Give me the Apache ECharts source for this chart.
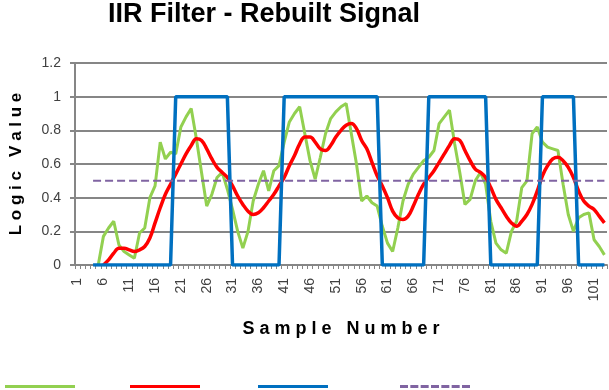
<!DOCTYPE html>
<html>
<head>
<meta charset="utf-8">
<script src="https://cdn.jsdelivr.net/npm/echarts@6/dist/echarts.min.js"></script>
<style>html,body{margin:0;padding:0;background:#fff}#c{width:609px;height:390px}</style>
</head>
<body>
<div id="c"></div>
<script>
// Sample numbers 1..103 (category axis)
const categories = Array.from({length: 103}, (_, i) => String(i + 1));
const yTicks = [0, 0.2, 0.4, 0.6, 0.8, 1, 1.2];

const rawSignal = [
  null,null,null,null,0,0.17,0.22,0.26,0.12,0.08,
  0.06,0.04,0.19,0.22,0.40,0.47,0.73,0.63,0.67,0.66,
  0.82,0.88,0.93,0.75,0.55,0.35,0.42,0.52,0.55,0.45,
  0.33,0.20,0.10,0.20,0.38,0.48,0.56,0.44,0.56,0.59,
  0.73,0.85,0.90,0.94,0.78,0.62,0.51,0.64,0.78,0.87,
  0.91,0.94,0.96,0.78,0.60,0.38,0.41,0.37,0.35,0.23,
  0.13,0.08,0.22,0.38,0.48,0.54,0.58,0.62,0.64,0.68,
  0.84,0.88,0.92,0.72,0.55,0.36,0.39,0.50,0.55,0.48,
  0.26,0.13,0.09,0.07,0.20,0.26,0.46,0.50,0.78,0.82,
  0.73,0.70,0.69,0.68,0.48,0.30,0.20,0.28,0.30,0.31,
  0.15,0.11,0.06
];

const filtered = [
  null,null,null,null,null,0,0.03,0.07,0.10,0.10,
  0.09,0.08,0.09,0.11,0.16,0.25,0.34,0.42,0.48,0.54,
  0.60,0.66,0.71,0.75,0.74,0.69,0.63,0.58,0.55,0.52,
  0.47,0.41,0.36,0.32,0.30,0.31,0.34,0.38,0.42,0.47,
  0.52,0.59,0.65,0.72,0.76,0.76,0.73,0.69,0.68,0.71,
  0.76,0.80,0.83,0.84,0.81,0.74,0.69,0.61,0.53,0.47,
  0.40,0.32,0.28,0.27,0.29,0.35,0.42,0.48,0.52,0.56,
  0.61,0.66,0.71,0.75,0.74,0.68,0.62,0.57,0.55,0.52,
  0.46,0.39,0.34,0.29,0.25,0.23,0.26,0.30,0.36,0.44,
  0.53,0.59,0.63,0.64,0.62,0.58,0.52,0.44,0.38,0.35,
  0.33,0.29,0.25
];

const rebuilt = [
  null,null,null,0,0,0,0,0,0,0,
  0,0,0,0,0,0,0,0,0,1,
  1,1,1,1,1,1,1,1,1,1,
  0,0,0,0,0,0,0,0,0,0,
  1,1,1,1,1,1,1,1,1,1,
  1,1,1,1,1,1,1,1,1,0,
  0,0,0,0,0,0,0,0,1,1,
  1,1,1,1,1,1,1,1,1,1,
  0,0,0,0,0,0,0,0,0,0,
  1,1,1,1,1,1,1,0,0,0,
  0,0,0
];

const threshold = [
  null,null,null,0.5,0.5,0.5,0.5,0.5,0.5,0.5,
  0.5,0.5,0.5,0.5,0.5,0.5,0.5,0.5,0.5,0.5,
  0.5,0.5,0.5,0.5,0.5,0.5,0.5,0.5,0.5,0.5,
  0.5,0.5,0.5,0.5,0.5,0.5,0.5,0.5,0.5,0.5,
  0.5,0.5,0.5,0.5,0.5,0.5,0.5,0.5,0.5,0.5,
  0.5,0.5,0.5,0.5,0.5,0.5,0.5,0.5,0.5,0.5,
  0.5,0.5,0.5,0.5,0.5,0.5,0.5,0.5,0.5,0.5,
  0.5,0.5,0.5,0.5,0.5,0.5,0.5,0.5,0.5,0.5,
  0.5,0.5,0.5,0.5,0.5,0.5,0.5,0.5,0.5,0.5,
  0.5,0.5,0.5,0.5,0.5,0.5,0.5,0.5,0.5,0.5,
  0.5,0.5,0.5
];

const seriesNames = ['Signal', 'Filtered', 'Rebuilt', 'Threshold'];
const colors = ['#92D050', '#FF0000', '#0070C0', '#8064A2'];

const chart = echarts.init(document.getElementById('c'), null, {renderer: 'canvas'});
const gray = '#868686';
const legendLeft = [5, 130, 258, 400];
const dashIcon = 'path://M0,0h24v3h-24z M31,0h24v3h-24z M62,0h24v3h-24z M93,0h24v3h-24z M124,0h24v3h-24z M155,0h24v3h-24z M186,0h24v3h-24z';
const legendIcons = ['rect', 'rect', 'rect', dashIcon];

chart.setOption({
  animation: false,
  title: {
    text: 'IIR Filter - Rebuilt Signal',
    left: 259, top: -4, textAlign: 'center',
    textStyle: {fontFamily: 'Liberation Sans', fontWeight: 'bold', fontSize: 27, color: '#000'}
  },
  legend: seriesNames.map((n, i) => ({
    data: [n], left: legendLeft[i], top: 385, padding: 0,
    icon: legendIcons[i], symbolKeepAspect: false,
    itemWidth: 70, itemHeight: 3, formatter: () => '',
    selectedMode: false, textStyle: {fontSize: 1}
  })),
  grid: {left: 70, right: 2, top: 63, bottom: 125, containLabel: false},
  xAxis: {
    type: 'category', data: categories, boundaryGap: true,
    name: 'S a m p l e   N u m b e r', nameLocation: 'middle', nameGap: 55,
    nameTextStyle: {fontFamily: 'Liberation Sans', fontWeight: 'bold', fontSize: 18, color: '#000'},
    axisLine: {lineStyle: {color: gray, width: 2}},
    axisTick: {show: true, interval: 0, length: 4, lineStyle: {color: gray, width: 1}},
    axisLabel: {interval: 4, rotate: 90, margin: 13, fontFamily: 'Liberation Sans', fontSize: 14, color: '#404040'},
    splitLine: {show: false}
  },
  yAxis: {
    type: 'value', min: 0, max: 1.2, interval: 0.2,
    name: 'L o g i c   V a l u e', nameLocation: 'middle', nameGap: 50,
    nameTextStyle: {fontFamily: 'Liberation Sans', fontWeight: 'bold', fontSize: 17, color: '#000'},
    axisLine: {show: true, lineStyle: {color: gray, width: 2}},
    axisTick: {show: true, length: 5, lineStyle: {color: gray, width: 2}},
    axisLabel: {margin: 14, fontFamily: 'Liberation Sans', fontSize: 14, color: '#404040',
      formatter: v => { const t = yTicks.find(x => Math.abs(x - v) < 1e-9); return String(t !== undefined ? t : v); }},
    splitLine: {show: true, lineStyle: {color: gray, width: 2}}
  },
  series: [
    {name: seriesNames[0], type: 'line', data: rawSignal, symbol: 'none', smooth: false,
      lineStyle: {color: colors[0], width: 3}, itemStyle: {color: colors[0]}},
    {name: seriesNames[1], type: 'line', data: filtered, symbol: 'none', smooth: 0.4,
      lineStyle: {color: colors[1], width: 3.5}, itemStyle: {color: colors[1]}},
    {name: seriesNames[2], type: 'line', data: rebuilt, symbol: 'none', smooth: false,
      lineStyle: {color: colors[2], width: 3.5}, itemStyle: {color: colors[2]}},
    {name: seriesNames[3], type: 'line', data: threshold, symbol: 'none', smooth: false,
      lineStyle: {color: colors[3], width: 2, type: [8, 4]}, itemStyle: {color: colors[3]}}
  ]
});
</script>
</body>
</html>
